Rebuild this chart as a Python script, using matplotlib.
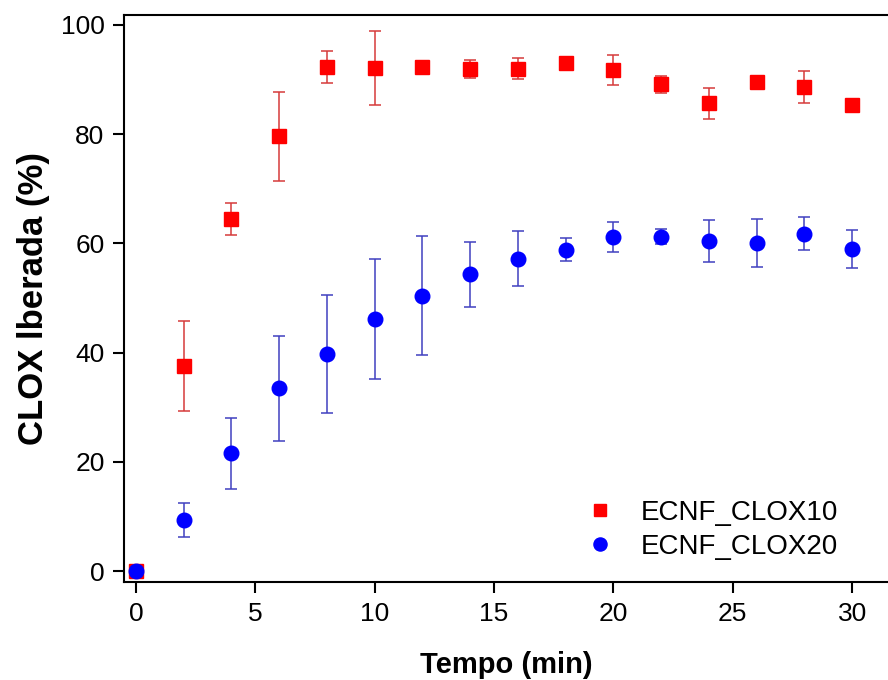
import matplotlib
matplotlib.use("Agg")
import matplotlib.pyplot as plt

plt.rcParams['font.family'] = ['Liberation Sans', 'DejaVu Sans']

# tempo (min)
tempo = [0, 2, 4, 6, 8, 10, 12, 14, 16, 18, 20, 22, 24, 26, 28, 30]

# ECNF_CLOX10
clox10 = [0, 37.5, 64.5, 79.6, 92.3, 92.1, 92.3, 91.9, 92.0, 93.0, 91.7, 89.1, 85.6, 89.6, 88.6, 85.3]
clox10_err = [0, 8.2, 2.9, 8.1, 2.9, 6.8, 0.3, 1.7, 2.0, 0.3, 2.8, 1.6, 2.9, 0.3, 3.0, 0.3]

# ECNF_CLOX20
clox20 = [0, 9.4, 21.6, 33.5, 39.8, 46.1, 50.4, 54.3, 57.2, 58.8, 61.2, 61.2, 60.4, 60.1, 61.8, 58.9]
clox20_err = [0, 3.1, 6.5, 9.6, 10.8, 11.0, 10.9, 6.0, 5.0, 2.1, 2.7, 1.4, 3.8, 4.4, 3.0, 3.5]

fig = plt.figure(figsize=(8.88, 6.8), dpi=100)
ax = fig.add_axes([0.1396, 0.144, 1 - 0.1396, 0.978 - 0.144])

ax.errorbar(tempo, clox10, yerr=clox10_err, fmt='s', color='#ff0000', mec='#ff0000',
            ecolor='#d63a3a', elinewidth=1.1, capsize=4.5, capthick=1.1, markersize=9.5,
            label='ECNF_CLOX10', zorder=3)
ax.errorbar(tempo, clox20, yerr=clox20_err, fmt='o', color='#0000ff', mec='#0000ff',
            ecolor='#4040c0', elinewidth=1.1, capsize=4.5, capthick=1.1, markersize=10.5,
            label='ECNF_CLOX20', zorder=4)

ax.set_xlim(-0.5, 31.5)
ax.set_ylim(-2.0, 101.8)
ax.set_xticks([0, 5, 10, 15, 20, 25, 30])
ax.set_yticks([0, 20, 40, 60, 80, 100])

for side in ['left', 'top', 'bottom']:
    ax.spines[side].set_linewidth(1.5)
ax.spines['right'].set_visible(False)

ax.tick_params(axis='both', direction='out', length=8, width=1.5, labelsize=19, pad=6)

ax.set_xlabel('Tempo (min)', fontsize=21, fontweight='bold', labelpad=18)
ax.set_ylabel('CLOX lberada (%)', fontsize=25, fontweight='bold', labelpad=8)

# legenda so com marcadores
handles, labels = ax.get_legend_handles_labels()
handles = [h[0] for h in handles]
ax.legend(handles, labels, loc='lower right', frameon=False, fontsize=20,
          bbox_to_anchor=(0.968, -0.005), handletextpad=1.0, labelspacing=0.3,
          handlelength=1.0, markerscale=0.9)

fig.savefig('out.png', dpi=100)
